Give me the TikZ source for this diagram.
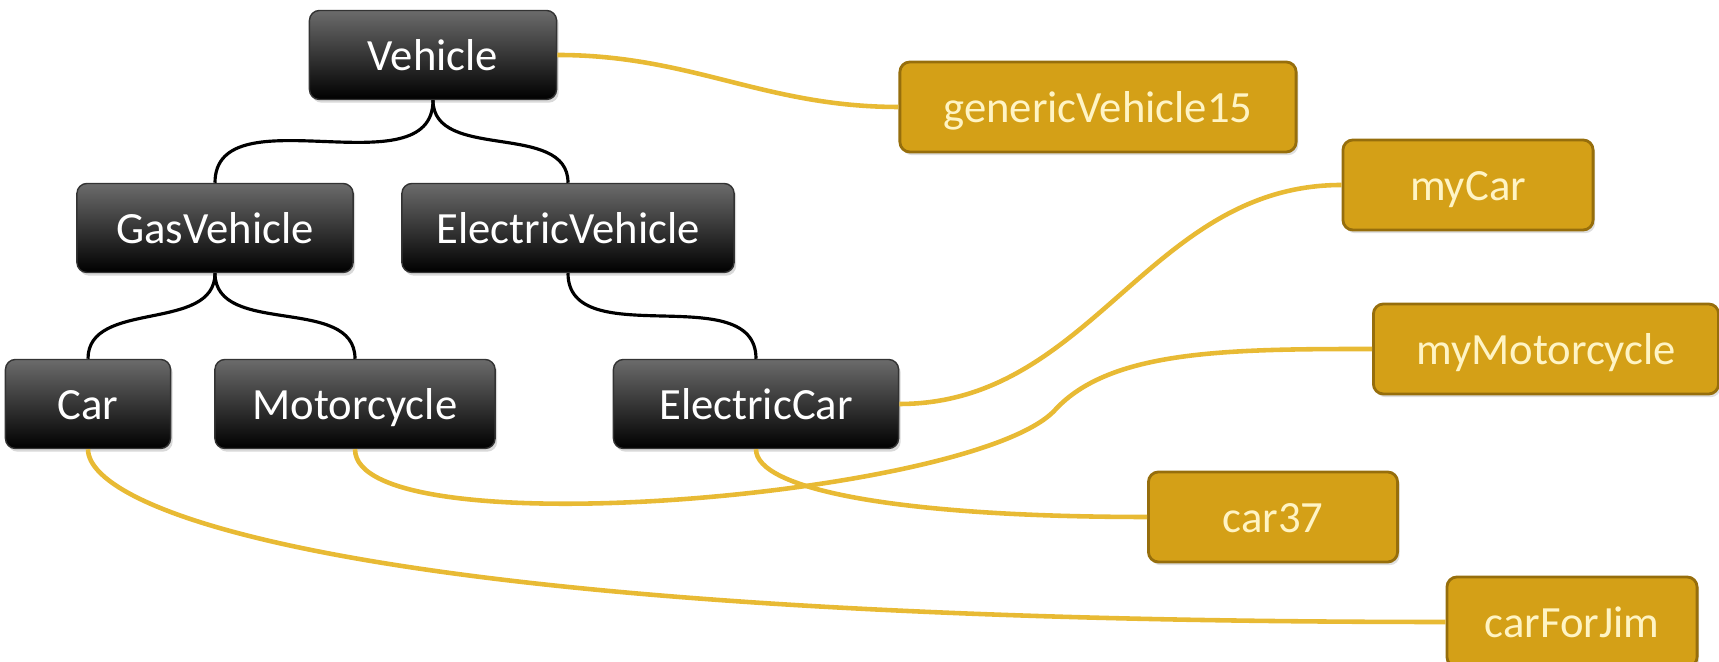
\documentclass[tikz,border=0pt]{standalone}
\usepackage{fontspec}
\setmainfont{Carlito}
\usetikzlibrary{shadows}
\definecolor{goldfill}{RGB}{212,160,23}
\definecolor{golddraw}{RGB}{150,110,12}
\definecolor{goldtext}{RGB}{255,244,196}
\definecolor{goldline}{RGB}{232,186,52}
\tikzset{
    %Define style for class boxes
    klasse/.style={
           rectangle,
           rounded corners=0.1cm,
           draw=black!80,
           top color=black!58,
           bottom color=black,
           text=white,
           minimum height=0.89cm,
           inner sep=0pt,
           text height=0.9em,
           text depth=0pt,
           drop shadow={opacity=0.3,shadow xshift=0.6pt,shadow yshift=-0.9pt}},
    %Define style for object boxes
    objekt/.style={
           rectangle,
           rounded corners=0.1cm,
           draw=golddraw,
           line width=0.8pt,
           fill=goldfill,
           text=goldtext,
           minimum height=0.9cm,
           inner sep=0pt,
           text height=0.9em,
           text depth=0pt,
           drop shadow={opacity=0.25,shadow xshift=0.6pt,shadow yshift=-0.9pt}},
    % Define line style for subclass links
    arv/.style={
           draw=black,
           line width=0.9pt},
    % Define line style for instance links
    inst/.style={
           draw=goldline,
           line width=1.3pt}
}
\begin{document}
\begin{tikzpicture}[x=0.01cm, y=-0.01cm, font=\fontsize{12.7}{15}\selectfont]
  \useasboundingbox (0,0) rectangle (1719,662);
  % classes
  \node[klasse, minimum width=2.47cm] (vehicle) at (433,55) {Vehicle};
  \node[klasse, minimum width=2.76cm] (gas) at (215,228) {GasVehicle};
  \node[klasse, minimum width=3.32cm] (electric) at (568,228) {ElectricVehicle};
  \node[klasse, minimum width=1.65cm] (car) at (88,404) {Car};
  \node[klasse, minimum width=2.80cm] (moto) at (355,404) {Motorcycle};
  \node[klasse, minimum width=2.85cm] (ecar) at (756,404) {ElectricCar};
  % objects
  \node[objekt, minimum width=3.96cm] (generic) at (1098,107) {genericVehicle15};
  \node[objekt, minimum width=2.50cm] (mycar) at (1468,185) {myCar};
  \node[objekt, minimum width=3.45cm] (mymoto) at (1546,349) {myMotorcycle};
  \node[objekt, minimum width=2.49cm] (car37) at (1273,517) {car37};
  \node[objekt, minimum width=2.50cm] (forjim) at (1572,622) {carForJim};

  \draw[arv] (vehicle.south) to[out=-90,in=90] (gas.north);
  \draw[arv] (vehicle.south) to[out=-90,in=90] (electric.north);
  \draw[arv] (gas.south) to[out=-90,in=90] (car.north);
  \draw[arv] (gas.south) to[out=-90,in=90] (moto.north);
  \draw[arv] (electric.south) to[out=-90,in=90] (ecar.north);

  \draw[inst] (vehicle.east) to[out=0,in=180] (generic.west);
  \draw[inst] (ecar.east) to[out=0,in=180] (mycar.west);
  \draw[inst] (ecar.south) .. controls +(0,40) and +(-250,0) .. (car37.west);
  \draw[inst] (moto.south) .. controls +(0,100) and +(-80,87) .. (1055,410)
    .. controls +(55,-60) and +(-144,0) .. (mymoto.west);
  \draw[inst] (car.south) .. controls +(0,60) and +(-1100,0) .. (forjim.west);
\end{tikzpicture}
\end{document}
